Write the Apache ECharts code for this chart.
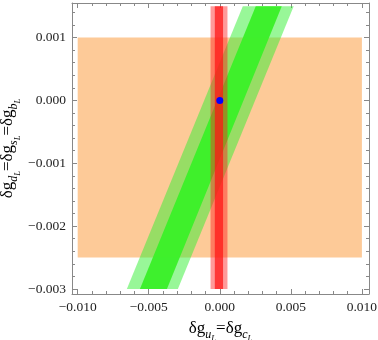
<!DOCTYPE html>
<html style="height: 100%">
    <head>
        <meta charset="utf-8" />
    </head>
    <body style="height: 100%; margin: 0; background: #fff">
        <div id="container" style="width: 378px; height: 340px"></div>

        <script
            type="text/javascript"
            src="https://fastly.jsdelivr.net/npm/echarts@6.0.0/dist/echarts.min.js"
        ></script>

        <script type="text/javascript">
            // tick positions
            var xMajor = [-0.01, -0.005, 0, 0.005, 0.01];
            var yMajor = [-0.003, -0.002, -0.001, 0, 0.001];
            var xMinor = [];
            for (var i = -10; i <= 10; i++) {
                if (i % 5 !== 0) xMinor.push(i / 1000);
            }
            var yMinor = [];
            for (var j = -15; j <= 7; j++) {
                if (j % 5 !== 0) yMinor.push(j / 5000);
            }

            // regions (corner values)
            var orangeBox = [[-0.01, -0.0025], [0.01, -0.0025], [0.01, 0.001], [-0.01, 0.001]];
            var greenOuter = [[-0.00654, -0.003], [-0.00295, -0.003], [0.0052, 0.0015], [0.00162, 0.0015]];
            var greenInner = [[-0.00562, -0.003], [-0.00372, -0.003], [0.00436, 0.0015], [0.00253, 0.0015]];
            var redOuter = [[-0.00065, -0.003], [0.00054, -0.003], [0.00054, 0.0015], [-0.00065, 0.0015]];
            var redInner = [[-0.00035, -0.003], [0.00023, -0.003], [0.00023, 0.0015], [-0.00035, 0.0015]];
            var bestFit = [[0, 0]];

            var xMin = -0.0104, xMax = 0.0105;
            var yMin = -0.00308, yMax = 0.00155;

            var serif = '"Liberation Serif", "DejaVu Serif", serif';
            var frameColor = '#888';

            var dom = document.getElementById('container');
            var myChart = echarts.init(dom, null, { renderer: 'canvas' });

            function fmt(v) {
                return (v < 0 ? '\u2212' : '') + Math.abs(v).toFixed(3);
            }

            function region(pts, color) {
                return {
                    type: 'custom',
                    coordinateSystem: 'cartesian2d',
                    silent: true,
                    data: [[0, 0]],
                    renderItem: function (params, api) {
                        return {
                            type: 'polygon',
                            shape: { points: pts.map(function (p) { return api.coord(p); }) },
                            style: { fill: color }
                        };
                    }
                };
            }

            var richName = {
                m: { fontFamily: serif, fontSize: 17, color: '#000', padding: [0, 0, 6, 0], verticalAlign: 'bottom' },
                s: { fontFamily: serif, fontSize: 12, fontStyle: 'italic', color: '#000', padding: [0, 0, 2, 0], verticalAlign: 'bottom' },
                ss: { fontFamily: serif, fontSize: 8.5, fontStyle: 'italic', color: '#000', padding: [0, 0, 0, 0], verticalAlign: 'bottom' }
            };

            function axisPair(dim, pos, major, minor, withLabels) {
                var min = dim === 'x' ? xMin : yMin;
                var max = dim === 'x' ? xMax : yMax;
                var main = {
                    type: 'value',
                    position: pos,
                    offset: 0,
                    min: min,
                    max: max,
                    axisLine: { show: true, onZero: false, lineStyle: { color: frameColor, width: 1 } },
                    axisTick: { show: true, inside: true, length: 5, customValues: major, lineStyle: { color: frameColor } },
                    axisLabel: {
                        show: withLabels,
                        customValues: major,
                        formatter: fmt,
                        fontFamily: serif,
                        fontSize: 13.5,
                        color: '#222',
                        margin: 6
                    },
                    splitLine: { show: false }
                };
                var minorAxis = {
                    type: 'value',
                    position: pos,
                    offset: 0,
                    min: min,
                    max: max,
                    axisLine: { show: false, onZero: false },
                    axisTick: { show: true, inside: true, length: 3, customValues: minor, lineStyle: { color: frameColor } },
                    axisLabel: { show: false },
                    splitLine: { show: false }
                };
                return [main, minorAxis];
            }

            var xAxes = axisPair('x', 'bottom', xMajor, xMinor, true).concat(axisPair('x', 'top', xMajor, xMinor, false));
            var yAxes = axisPair('y', 'left', yMajor, yMinor, true).concat(axisPair('y', 'right', yMajor, yMinor, false));

            xAxes[0].name = '{m|δg}{s|u}{ss|L}{m|=δg}{s|c}{ss|L}';
            xAxes[0].nameLocation = 'middle';
            xAxes[0].nameGap = 26;
            xAxes[0].nameMoveOverlap = false;
            xAxes[0].nameTextStyle = { rich: richName };

            yAxes[0].name = '{m|δg}{s|d}{ss|L}{m|=δg}{s|s}{ss|L}{m|=δg}{s|b}{ss|L}';
            yAxes[0].nameLocation = 'middle';
            yAxes[0].nameGap = 50;
            yAxes[0].nameMoveOverlap = false;
            yAxes[0].nameTextStyle = { rich: richName };

            var option = {
                animation: false,
                grid: { left: 72, right: 9, top: 3, bottom: 46, containLabel: false, outerBoundsMode: 'none' },
                xAxis: xAxes,
                yAxis: yAxes,
                series: [
                    region(orangeBox, '#fdca98'),
                    region(greenOuter, 'rgba(50,240,50,0.5)'),
                    region(greenInner, 'rgba(58,240,40,0.95)'),
                    region(redOuter, 'rgba(255,30,30,0.45)'),
                    region(redInner, 'rgba(255,20,20,0.72)'),
                    {
                        type: 'scatter',
                        data: bestFit,
                        symbolSize: 7,
                        itemStyle: { color: '#0000ff', opacity: 1 },
                        silent: true
                    }
                ]
            };

            myChart.setOption(option);
            window.addEventListener('resize', myChart.resize);
        </script>
    </body>
</html>
